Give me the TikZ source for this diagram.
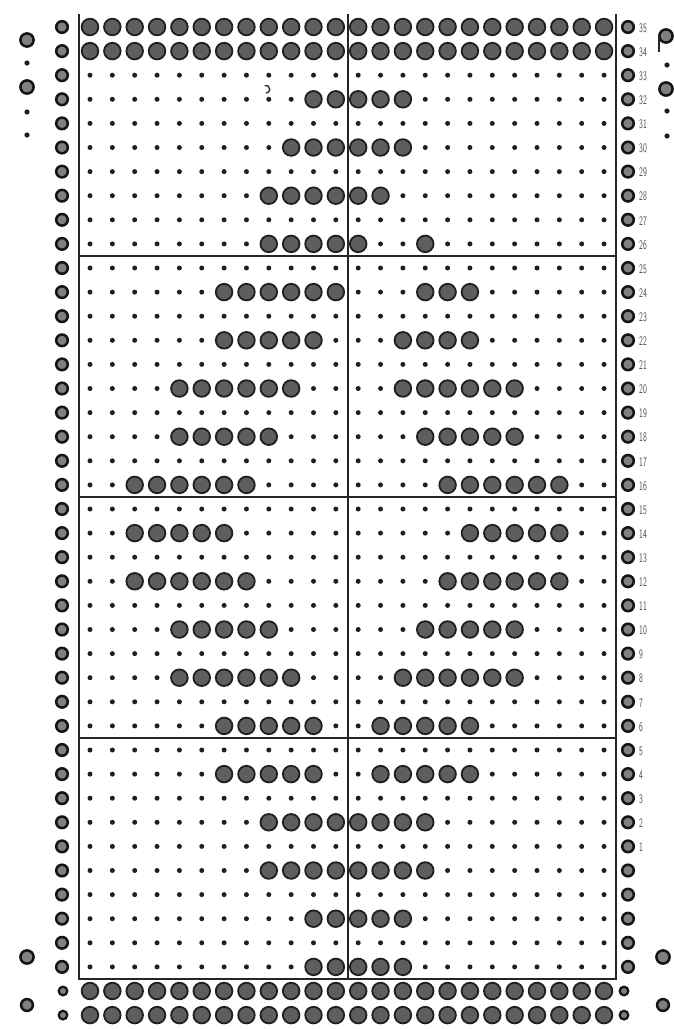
\documentclass[tikz,border=0pt]{standalone}
\begin{document}
\begin{tikzpicture}[x=1pt,y=-1pt,
  hole/.style={fill=black!63, draw=black!88, line width=1.8pt},
  pin/.style={fill=black!88},
  side/.style={fill=black!50, draw=black!92, line width=2.5pt},
  sidesmall/.style={fill=black!50, draw=black!92, line width=2.2pt},
  rule/.style={draw=black!85, line width=1.5pt},
  lbl/.style={anchor=west, inner sep=0pt, text=black!72, font=\sffamily\fontsize{13}{13}\selectfont}]
\useasboundingbox (0,0) rectangle (674,1029);
\fill[white] (0,0) rectangle (674,1029);
% small pin dots of the inner grid
\foreach \i in {2,...,39}{
  \foreach \c in {0,...,23}{
    \fill[pin] ({90+22.35*\c},{27+24.1*\i}) circle (2.5);
  }
}
% grid rules
\draw[rule] (79,14) -- (79,979) -- (616,979) -- (616,14);
\draw[rule] (348,14) -- (348,979);
\foreach \h in {9.5,19.5,29.5}{
  \draw[rule] (79,{27+24.1*\h}) -- (616,{27+24.1*\h});
}
% punched holes: row index / first column / last column
\foreach \i/\a/\b in {0/0/23,1/0/23,3/10/14,5/9/14,7/8/13,9/8/12,9/15/15,
  11/6/11,11/15/17,13/6/10,13/14/17,15/4/9,15/14/19,17/4/8,17/15/19,
  19/2/7,19/16/21,21/2/6,21/17/21,23/2/7,23/16/21,25/4/8,25/15/19,
  27/4/9,27/14/19,29/6/10,29/13/17,31/6/10,31/13/17,33/8/15,35/8/15,
  37/10/14,39/10/14,40/0/23,41/0/23}{
  \foreach \c in {\a,...,\b}{
    \draw[hole] ({90+22.35*\c},{27+24.1*\i}) circle (8.3);
  }
}
% small mark in row 32
\draw[black!80, line width=1.4pt] (266,93) arc (90:-110:3.8);
% side columns
\foreach \i in {0,...,39}{
  \draw[side] (62,{27+24.1*\i}) circle (5.8);
  \draw[side] (628,{27+24.1*\i}) circle (5.8);
}
\foreach \i in {40,41}{
  \draw[sidesmall] (63,{27+24.1*\i}) circle (4.3);
  \draw[sidesmall] (624,{27+24.1*\i}) circle (4.3);
}
% row numbers
\foreach \i in {0,...,34}{
  \pgfmathtruncatemacro{\n}{35-\i}
  \node[lbl] (l\n) at (639,{28+24.1*\i}) {\scalebox{0.6}[1]{\n}};
}
% loose holes at the edges
\draw[side] (27,40) circle (6.6);
\fill[pin] (27,63) circle (2.6);
\draw[side] (27,87) circle (6.6);
\fill[pin] (27,112) circle (2.6);
\fill[pin] (27,135) circle (2.6);
\draw[side] (666,36) circle (6.6);
\draw[black!85, line width=1.6pt] (659,34) -- (659,52);
\fill[pin] (667,65) circle (2.6);
\draw[side] (666,89) circle (6.6);
\fill[pin] (667,111) circle (2.6);
\fill[pin] (667,136) circle (2.6);
\draw[side] (27,957) circle (6.6);
\draw[side] (27,1005) circle (5.9);
\draw[side] (663,957) circle (6.6);
\draw[side] (663,1005) circle (5.9);
\end{tikzpicture}
\end{document}
